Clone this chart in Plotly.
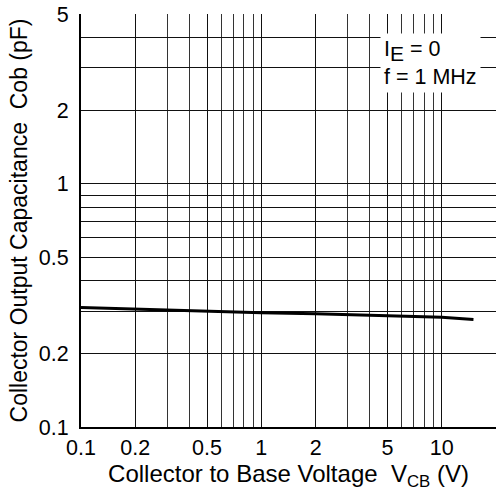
import math
import plotly.graph_objects as go

# Data
vcb = [0.1, 0.2, 0.5, 1, 2, 5, 10, 15]
cob = [0.310, 0.305, 0.300, 0.295, 0.292, 0.287, 0.283, 0.277]

x_major = [0.1, 0.2, 0.5, 1, 2, 5, 10]
x_labels = ["0.1", "0.2", "0.5", "1", "2", "5", "10"]
x_minor = [0.3, 0.4, 0.6, 0.7, 0.8, 0.9, 3, 4, 6, 7, 8, 9]

y_major = [0.1, 0.2, 0.5, 1, 2, 5]
y_labels = ["0.1", "0.2", "0.5", "1", "2", "5"]
y_minor = [0.3, 0.4, 0.6, 0.7, 0.8, 0.9, 3, 4]

FONT = "Liberation Sans, Arial, Helvetica, sans-serif"

fig = go.Figure()
fig.add_trace(go.Scatter(x=vcb, y=cob, mode="lines",
                         line=dict(color="black", width=3),
                         showlegend=False, hoverinfo="skip"))

fig.update_layout(
    width=496, height=501,
    margin=dict(l=81, r=0, t=14, b=74),
    paper_bgcolor="white", plot_bgcolor="white",
    font=dict(family=FONT, color="black", size=21),
    xaxis=dict(
        type="log", range=[-1, math.log10(20)],
        tickvals=x_major, ticktext=x_labels, ticks="",
        tickfont=dict(size=21.5), ticklabelstandoff=0,
        showgrid=True, gridcolor="#111", gridwidth=1.3,
        minor=dict(tickvals=x_minor, showgrid=True, gridcolor="#333", gridwidth=1.1, ticks=""),
        showline=True, linecolor="black", linewidth=2,
        title=dict(text="Collector to Base Voltage  V<sub>CB</sub> (V)",
                   font=dict(size=24), standoff=3),
    ),
    yaxis=dict(
        type="log", range=[-1, math.log10(5)],
        tickvals=y_major, ticktext=y_labels, ticks="",
        tickfont=dict(size=21.5), ticklabelstandoff=6,
        showgrid=True, gridcolor="#111", gridwidth=1.3,
        minor=dict(tickvals=y_minor, showgrid=True, gridcolor="#111", gridwidth=1.3, ticks=""),
        showline=True, linecolor="black", linewidth=2,
        title=dict(text="Collector Output Capacitance  Cob (pF)",
                   font=dict(size=23), standoff=5),
    ),
    annotations=[dict(
        xref="paper", yref="paper", x=0.72, y=0.955,
        xanchor="left", yanchor="top", align="left", showarrow=False,
        text="I<sub><span style='font-size:21px'>E</span></sub> = 0<br>f = 1 MHz",
        font=dict(size=21.5), bgcolor="white", borderpad=3,
    )],
)

fig.write_html("out.html")
